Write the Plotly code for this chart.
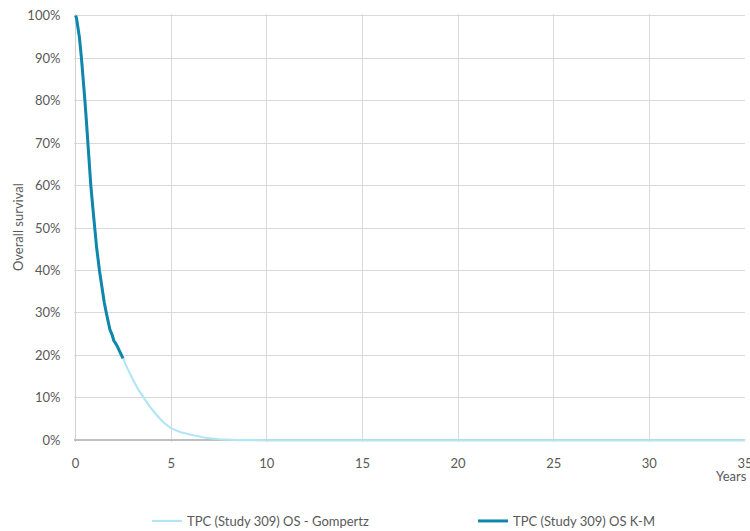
import plotly.graph_objects as go

# K-M observed overall survival (years, survival fraction)
km_years = [0.0, 0.05, 0.1, 0.2, 0.31, 0.4, 0.49, 0.57, 0.64, 0.72, 0.80, 0.9, 0.99,
            1.1, 1.25, 1.35, 1.42, 1.45, 1.5, 1.61, 1.7, 1.75, 1.8, 1.9, 1.95, 2.0,
            2.1, 2.15, 2.2, 2.3, 2.35, 2.4, 2.48]
km_surv = [1.0, 0.995, 0.98, 0.95, 0.90, 0.855, 0.80, 0.75, 0.70, 0.65, 0.60, 0.55, 0.50,
           0.455, 0.40, 0.37, 0.35, 0.335, 0.325, 0.30, 0.28, 0.272, 0.26, 0.25, 0.24, 0.235,
           0.228, 0.222, 0.22, 0.21, 0.205, 0.20, 0.193]

# Gompertz extrapolation (years, survival fraction)
gomp_years = [0.0, 0.2, 0.4, 0.6, 0.8, 1.0, 1.25, 1.5, 1.75, 2.0, 2.25, 2.45, 2.6, 2.8,
              3.03, 3.3, 3.57, 3.9, 4.25, 4.6, 5.0, 5.5, 6.15, 6.8, 7.5, 8.5, 10, 15, 20,
              25, 30, 35]
gomp_surv = [1.0, 0.95, 0.855, 0.74, 0.60, 0.50, 0.40, 0.325, 0.27, 0.235, 0.215, 0.20,
             0.18, 0.16, 0.14, 0.118, 0.10, 0.078, 0.059, 0.042, 0.028, 0.019, 0.012,
             0.006, 0.0025, 0.0005, 0.0, 0.0, 0.0, 0.0, 0.0, 0.0]

x_ticks = [0, 5, 10, 15, 20, 25, 30, 35]
y_ticks = [0, 0.1, 0.2, 0.3, 0.4, 0.5, 0.6, 0.7, 0.8, 0.9, 1.0]
y_tick_labels = ["0%", "10%", "20%", "30%", "40%", "50%", "60%", "70%", "80%", "90%", "100%"]

FONT = "Lato, Liberation Sans, Arial, sans-serif"
TXT = "#595959"
FS = 13

# plot area in pixels: x 73.5..745, y 14.3..441.7
fig = go.Figure()
fig.add_trace(go.Scatter(x=gomp_years, y=gomp_surv, mode="lines",
                         name="TPC (Study 309) OS - Gompertz",
                         line=dict(color="#B3E6F5", width=2.2)))
fig.add_trace(go.Scatter(x=km_years, y=km_surv, mode="lines",
                         name="TPC (Study 309) OS K-M",
                         line=dict(color="#0F86AC", width=3)))

fig.update_layout(
    width=750, height=531,
    margin=dict(l=73.5, r=5, t=14.3, b=89.3, autoexpand=False),
    paper_bgcolor="white", plot_bgcolor="white",
    font=dict(family=FONT, size=FS, color=TXT),
    showlegend=True,
    legend=dict(orientation="h", xref="container", yref="container",
                x=147 / 750, xanchor="left", y=(531 - 521) / 531, yanchor="middle",
                entrywidth=281, font=dict(size=FS, color=TXT), itemwidth=30,
                bgcolor="rgba(0,0,0,0)"),
    xaxis=dict(range=[-0.08, 35], tickvals=x_ticks, showgrid=True, gridcolor="#D9D9D9",
               gridwidth=1, zeroline=True, zerolinecolor="#D0D0D0", zerolinewidth=1,
               showline=False, ticks="outside", ticklen=9, tickcolor="rgba(0,0,0,0)",
               tickfont=dict(size=FS, color=TXT), layer="below traces", automargin=False,
               ticklabeloverflow="allow"),
    yaxis=dict(range=[-0.004, 1.004], tickvals=y_ticks, ticktext=y_tick_labels,
               showgrid=True, gridcolor="#D9D9D9", gridwidth=1, zeroline=True,
               zerolinecolor="#BFBFBF", zerolinewidth=1.5, showline=False,
               ticks="outside", ticklen=10, tickcolor="rgba(0,0,0,0)",
               tickfont=dict(size=FS, color=TXT), layer="below traces", automargin=False),
    annotations=[
        dict(text="Years", xref="paper", yref="paper", x=1.0, xshift=4,
             y=(441.7 - 476) / 427.4, xanchor="right", yanchor="middle", showarrow=False,
             font=dict(size=FS, color=TXT)),
        dict(text="Overall survival", xref="paper", yref="paper",
             x=(17.5 - 73.5) / 671.5, y=(441.7 - 227) / 427.4, textangle=-90,
             xanchor="center", yanchor="middle", showarrow=False,
             font=dict(size=FS, color=TXT)),
    ],
)

fig.write_html("out.html", config={"displayModeBar": False},
               post_script="document.body.style.margin='0';")
